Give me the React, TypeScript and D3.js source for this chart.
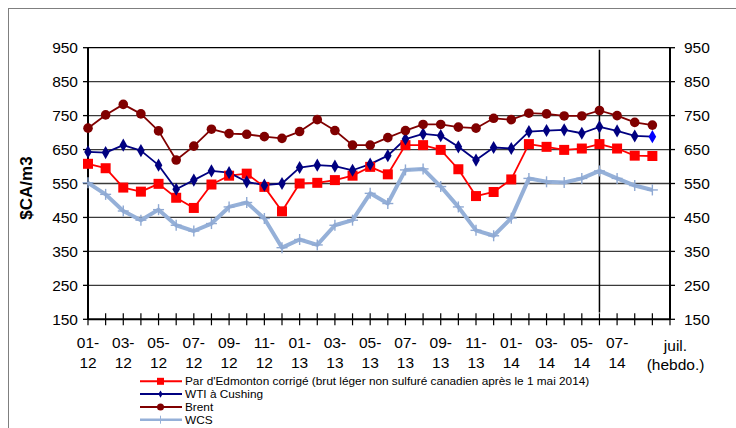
import React from "react";
import * as d3 from "d3";

// monthly 01-12 .. 07-14, then two weekly July points
const categories = [
  "01-12", "02-12", "03-12", "04-12", "05-12", "06-12", "07-12", "08-12", "09-12", "10-12", "11-12", "12-12",
  "01-13", "02-13", "03-13", "04-13", "05-13", "06-13", "07-13", "08-13", "09-13", "10-13", "11-13", "12-13",
  "01-14", "02-14", "03-14", "04-14", "05-14", "06-14", "07-14", "juil. s1", "juil. s2",
];
const edmonton = [608, 595, 538, 526, 549, 508, 478, 547, 573, 579, 540, 468, 550, 552, 560, 573, 599, 577, 663, 663, 649, 592, 513, 525, 562, 666, 658, 649, 653, 666, 653, 632, 631];
const wti = [643, 641, 663, 647, 604, 533, 560, 587, 582, 555, 545, 550, 597, 604, 601, 589, 607, 632, 681, 696, 691, 658, 619, 656, 653, 703, 706, 708, 698, 717, 705, 690, 688];
const brent = [713, 752, 783, 755, 705, 619, 660, 710, 697, 695, 688, 683, 703, 738, 706, 663, 663, 685, 706, 724, 724, 716, 713, 742, 738, 757, 755, 749, 749, 765, 750, 730, 722];
const wcs = [552, 518, 469, 442, 473, 427, 410, 432, 481, 494, 447, 361, 385, 369, 427, 442, 521, 491, 590, 593, 541, 481, 412, 396, 448, 565, 555, 553, 565, 587, 565, 544, 531];
const yTicks = [150, 250, 350, 450, 550, 650, 750, 850, 950];
const legendNames = [
  "Par d'Edmonton corrigé (brut léger non sulfuré canadien après le 1 mai 2014)",
  "WTI à Cushing",
  "Brent",
  "WCS",
];

const FONT = "'Liberation Sans', Arial, sans-serif";

export default function App() {
  const x = d3.scaleLinear().domain([0, categories.length]).range([88, 670]);
  const y = d3.scaleLinear().domain([150, 950]).range([319.3, 47.7]);
  const line = d3
    .line<number>()
    .x((d, i) => x(i))
    .y((d) => y(d));

  const diamond = d3.symbol().type(d3.symbolDiamond).size(50)();
  const smallDiamond = d3.symbol().type(d3.symbolDiamond).size(16)();

  const tickIdx = d3.range(0, 31, 2);

  const series = [
    { data: edmonton, color: "#ff0000", w: 1.8 },
    { data: wti, color: "#000080", w: 1.8 },
    { data: brent, color: "#800000", w: 1.8 },
    { data: wcs, color: "#95b0d8", w: 4 },
  ];

  return (
    <svg width={736} height={428} style={{ position: "absolute", left: 0, top: 0, background: "#fff" }} fontFamily={FONT}>
      <rect x={8.5} y={8.5} width={740} height={440} fill="#fff" stroke="#7f7f7f" strokeWidth={1} />

      {/* gridlines */}
      {yTicks.slice(1).map((t) => (
        <line key={t} x1={x(0)} x2={x(categories.length)} y1={y(t)} y2={y(t)} stroke={t === 950 ? "#000" : "#3a3a3a"} strokeWidth={1.3} />
      ))}

      {/* vertical separator */}
      <line x1={x(29)} x2={x(29)} y1={y(944)} y2={y(170)} stroke="#000" strokeWidth={1.5} />

      {/* axes */}
      <line x1={x(0)} x2={x(0)} y1={y(950)} y2={y(150)} stroke="#000" strokeWidth={2} />
      <line x1={x(categories.length)} x2={x(categories.length)} y1={y(950)} y2={y(150)} stroke="#000" strokeWidth={2} />
      <line x1={x(0)} x2={x(categories.length)} y1={y(150)} y2={y(150)} stroke="#000" strokeWidth={2} />
      {yTicks.map((t) => (
        <g key={t}>
          <line x1={x(0) - 5} x2={x(0)} y1={y(t)} y2={y(t)} stroke="#000" strokeWidth={1.3} />
          <line x1={x(categories.length)} x2={x(categories.length) + 5} y1={y(t)} y2={y(t)} stroke="#000" strokeWidth={1.3} />
          <text x={78} y={y(t) + 5.5} textAnchor="end" fontSize={15.5} fill="#000">{t}</text>
          <text x={684} y={y(t) + 5.5} textAnchor="start" fontSize={15.5} fill="#000">{t}</text>
        </g>
      ))}
      {d3.range(0, categories.length + 1).map((i) => (
        <line key={i} x1={x(i)} x2={x(i)} y1={y(150) - 6} y2={y(150) + 6} stroke="#000" strokeWidth={1.2} />
      ))}
      {tickIdx.map((i) => {
        const [m, yr] = categories[i].split("-");
        return (
          <text key={i} x={x(i)} textAnchor="middle" fontSize={15.5} fill="#000">
            <tspan x={x(i)} y={348}>{m}-</tspan>
            <tspan x={x(i)} y={368}>{yr}</tspan>
          </text>
        );
      })}
      <text textAnchor="middle" fontSize={15.5} fill="#000">
        <tspan x={x(categories.length) + 5.5} y={351}>juil.</tspan>
        <tspan x={x(categories.length) + 5.5} y={370}>(hebdo.)</tspan>
      </text>

      {/* y title */}
      <text transform={`translate(32,${188}) rotate(-90)`} textAnchor="middle" fontSize={17} fontWeight="bold" fill="#000">$CA/m3</text>

      {/* lines */}
      {series.map((s, k) => (
        <path key={k} d={line(s.data) ?? ""} fill="none" stroke={s.color} strokeWidth={s.w} strokeLinejoin="round" />
      ))}

      {/* markers */}
      {edmonton.map((v, i) => (
        <rect key={"e" + i} x={x(i) - 5} y={y(v) - 5} width={10} height={10} fill="#ff0000" />
      ))}
      {wti.map((v, i) => (
        <path key={"w" + i} d={diamond ?? ""} transform={`translate(${x(i)},${y(v)})`} fill={i === wti.length - 1 ? "#0000ff" : "#000080"} />
      ))}
      {brent.map((v, i) => (
        <circle key={"b" + i} cx={x(i)} cy={y(v)} r={4.8} fill="#800000" />
      ))}
      {wcs.map((v, i) => (
        <g key={"c" + i} stroke="#8fa9d3" strokeWidth={1.4}>
          <line x1={x(i) - 5.5} x2={x(i) + 5.5} y1={y(v)} y2={y(v)} />
          <line x1={x(i)} x2={x(i)} y1={y(v) - 5.5} y2={y(v) + 5.5} />
        </g>
      ))}

      {/* legend */}
      {legendNames.map((name, k) => {
        const ly = 381.3 + k * 12.8;
        const s = series[k];
        return (
          <g key={name}>
            <line x1={140} x2={182} y1={ly} y2={ly} stroke={s.color} strokeWidth={k === 3 ? 2.5 : 2} />
            {k === 0 && <rect x={157} y={ly - 3.5} width={7} height={7} fill="#ff0000" />}
            {k === 1 && <path d={smallDiamond ?? ""} transform={`translate(160.5,${ly})`} fill="#000080" />}
            {k === 2 && <circle cx={160.5} cy={ly} r={3.5} fill="#800000" />}
            {k === 3 && <line x1={160.5} x2={160.5} y1={ly - 4} y2={ly + 4} stroke="#95b0d8" strokeWidth={1} />}
            <text x={185} y={ly + 4} fontSize={11.8} fill="#000">{name}</text>
          </g>
        );
      })}
    </svg>
  );
}
